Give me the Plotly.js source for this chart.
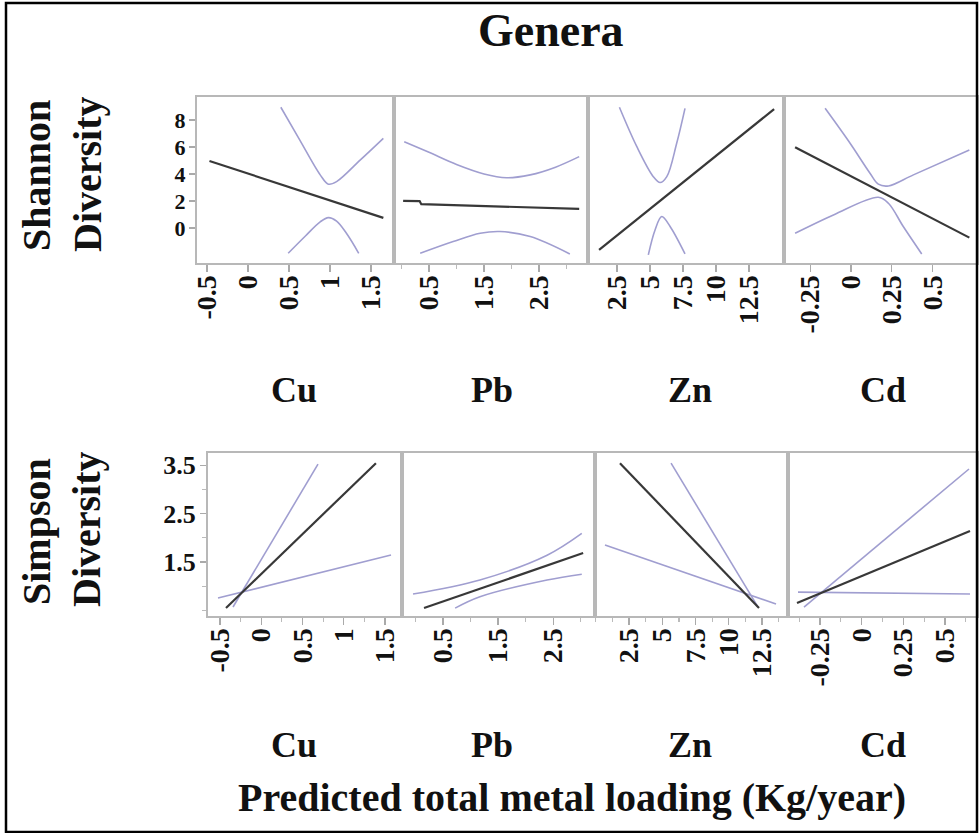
<!DOCTYPE html>
<html>
<head>
<meta charset="utf-8">
<script src="https://cdn.plot.ly/plotly-3.0.1.min.js"></script>
<style>html,body{margin:0;padding:0;background:#fff;}#chart{width:979px;height:833px;}</style>
</head>
<body>
<div id="chart"></div>
<script>
// ---------- data ----------
const metals = ['Cu', 'Pb', 'Zn', 'Cd'];
const rowLabels = [['Shannon', 'Diversity'], ['Simpson', 'Diversity']];
const chartTitle = 'Genera';
const xTitle = 'Predicted total metal loading (Kg/year)';

// Shannon diversity (top row)
const shCuFitX = [-0.47, 1.65], shCuFitY = [4.96, 0.74];
const shCuUpX = [0.40, 0.63, 0.88, 0.98, 1.08, 1.37, 1.65], shCuUpY = [8.94, 6.52, 3.93, 3.24, 3.43, 5.04, 6.64];
const shCuLoX = [0.49, 0.70, 0.88, 0.98, 1.08, 1.20, 1.35], shCuLoY = [-1.88, -0.60, 0.45, 0.76, 0.50, -0.40, -1.88];

const shPbFitX = [0.03, 0.33, 0.36, 3.23], shPbFitY = [2.00, 1.98, 1.76, 1.41];
const shPbUpX = [0.05, 0.50, 1.00, 1.50, 1.91, 2.34, 2.80, 3.23], shPbUpY = [6.39, 5.60, 4.70, 4.00, 3.72, 3.93, 4.50, 5.28];
const shPbLoX = [0.34, 0.94, 1.43, 1.79, 2.34, 3.06], shPbLoY = [-1.88, -1.01, -0.40, -0.27, -0.64, -1.93];

const shZnFitX = [1.14, 14.4], shZnFitY = [-1.63, 8.80];
const shZnUpX = [2.68, 4.00, 5.25, 5.76, 6.27, 7.02, 7.65], shZnUpY = [8.94, 6.02, 3.80, 3.36, 3.80, 6.27, 8.86];
const shZnLoX = [4.87, 5.38, 5.89, 6.52, 7.65], shZnLoY = [-2.00, -0.15, 0.84, 0.10, -1.93];

const shCdFitX = [-0.342, 0.726], shCdFitY = [5.98, -0.72];
const shCdUpX = [-0.158, -0.005, 0.117, 0.168, 0.23, 0.383, 0.726], shCdUpY = [8.86, 6.27, 4.05, 3.24, 3.11, 3.93, 5.78];
const shCdLoX = [-0.342, -0.107, 0.168, 0.23, 0.321, 0.434], shCdLoY = [-0.40, 0.96, 2.27, 1.83, 0.10, -1.93];

// Simpson diversity (bottom row)
const siCuFitX = [-0.427, 1.39], siCuFitY = [0.552, 3.54];
const siCuUpX = [-0.342, 0.688], siCuUpY = [0.572, 3.52];
const siCuLoX = [-0.524, 1.573], siCuLoY = [0.758, 1.644];

const siPbFitX = [0.155, 3.045], siPbFitY = [0.552, 1.686];
const siPbUpX = [-0.045, 1.17, 2.39, 3.02], siPbUpY = [0.84, 1.13, 1.64, 2.09];
const siPbLoX = [0.72, 1.17, 2.39, 3.02], siPbLoY = [0.55, 0.785, 1.13, 1.25];

const siZnFitX = [1.82, 12.27], siZnFitY = [3.54, 0.55];
const siZnUpX = [5.66, 12.2], siZnUpY = [3.54, 0.57];
const siZnLoX = [0.695, 13.55], siZnLoY = [1.85, 0.634];

const siCdFitX = [-0.388, 0.65], siCdFitY = [0.655, 2.14];
const siCdUpX = [-0.346, 0.644], siCdUpY = [0.572, 3.42];
const siCdLoX = [-0.382, 0.65], siCdLoY = [0.88, 0.84];

// tick labels
const cuTicks = [-0.5, 0, 0.5, 1, 1.5], cuText = ['-0.5', '0', '0.5', '1', '1.5'];
const pbTicks = [0.5, 1.5, 2.5], pbText = ['0.5', '1.5', '2.5'];
const znTicks = [2.5, 5, 7.5, 10, 12.5], znText = ['2.5', '5', '7.5', '10', '12.5'];
const cdTicks = [-0.25, 0, 0.25, 0.5], cdText = ['-0.25', '0', '0.25', '0.5'];
const shTicks = [0, 2, 4, 6, 8], shText = ['0', '2', '4', '6', '8'];
const siTicks = [1.5, 2.5, 3.5], siText = ['1.5', '2.5', '3.5'];

// ---------- layout helpers ----------
const W = 979, H = 833;
const px = v => v / W;
const py = v => 1 - v / H;
const FONT = 'Liberation Serif, Times New Roman, serif';
const FIT_COLOR = '#383838', CI_COLOR = '#a09ed0', FRAME = '#b8b8b8';

const traces = [];
function addPanel(n, fx, fy, ux, uy, lx, ly, ciShape) {
  const xa = 'x' + (n === 1 ? '' : n), ya = 'y' + (n === 1 ? '' : n);
  traces.push({x: ux, y: uy, xaxis: xa, yaxis: ya, mode: 'lines', hoverinfo: 'skip',
    line: {color: CI_COLOR, width: 1.6, shape: ciShape, smoothing: 1}});
  traces.push({x: lx, y: ly, xaxis: xa, yaxis: ya, mode: 'lines', hoverinfo: 'skip',
    line: {color: CI_COLOR, width: 1.6, shape: ciShape, smoothing: 1}});
  traces.push({x: fx, y: fy, xaxis: xa, yaxis: ya, mode: 'lines', hoverinfo: 'skip',
    line: {color: FIT_COLOR, width: 2.2}});
}
addPanel(1, shCuFitX, shCuFitY, shCuUpX, shCuUpY, shCuLoX, shCuLoY, 'spline');
addPanel(2, shPbFitX, shPbFitY, shPbUpX, shPbUpY, shPbLoX, shPbLoY, 'spline');
addPanel(3, shZnFitX, shZnFitY, shZnUpX, shZnUpY, shZnLoX, shZnLoY, 'spline');
addPanel(4, shCdFitX, shCdFitY, shCdUpX, shCdUpY, shCdLoX, shCdLoY, 'spline');
addPanel(5, siCuFitX, siCuFitY, siCuUpX, siCuUpY, siCuLoX, siCuLoY, 'spline');
addPanel(6, siPbFitX, siPbFitY, siPbUpX, siPbUpY, siPbLoX, siPbLoY, 'spline');
addPanel(7, siZnFitX, siZnFitY, siZnUpX, siZnUpY, siZnLoX, siZnLoY, 'linear');
addPanel(8, siCdFitX, siCdFitY, siCdUpX, siCdUpY, siCdLoX, siCdLoY, 'linear');

const layout = {
  width: W, height: H, margin: {l: 0, r: 0, t: 0, b: 0},
  paper_bgcolor: '#fff', plot_bgcolor: '#fff', showlegend: false,
  font: {family: FONT, color: '#111'},
  annotations: [], shapes: []
};

function xAxis(dom, range, tv, tt, anchor, minorD) {
  const a = {domain: [px(dom[0]), px(dom[1])], range: range, anchor: anchor,
    showgrid: false, zeroline: false, showline: true, mirror: true,
    linecolor: FRAME, linewidth: 2, ticks: 'outside', ticklen: 7, tickwidth: 1.2, tickcolor: '#aaa',
    tickmode: 'array', tickvals: tv, ticktext: tt, tickangle: -90, ticklabelstandoff: -8,
    tickfont: {family: FONT, size: 28, color: '#111', weight: 700}, fixedrange: true};
  if (minorD) a.minor = {dtick: minorD, ticks: 'outside', ticklen: 4, tickcolor: '#bbb', showgrid: false};
  return a;
}
function yAxis(dom, range, tv, tt, anchor, labels, minorD, fsize) {
  const a = {domain: [py(dom[1]), py(dom[0])], range: range, anchor: anchor,
    showgrid: false, zeroline: false, showline: true, mirror: true,
    linecolor: FRAME, linewidth: 2, fixedrange: true,
    ticks: labels ? 'outside' : '', ticklen: 6, tickwidth: 1.2, tickcolor: '#aaa',
    showticklabels: labels, ticklabelstandoff: -1,
    tickfont: {family: FONT, size: fsize, color: '#111', weight: 700}};
  if (labels) { a.tickmode = 'array'; a.tickvals = tv; a.ticktext = tt; }
  if (minorD && labels) a.minor = {dtick: minorD, ticks: 'outside', ticklen: 4, tickcolor: '#bbb', showgrid: false};
  return a;
}

// panel geometry
const topY = [97, 263], botY = [453, 616];
const topX = [[197, 394], [394, 588], [588, 784], [784, 978]];
const botX = [[208, 402], [402, 595], [595, 788], [788, 978]];
const topXR = [[-0.622, 1.78], [-0.136, 3.39], [0.3, 15.15], [-0.41, 0.779]];
const botXR = [[-0.645, 1.706], [-0.245, 3.26], [-0.056, 14.45], [-0.442, 0.698]];
const tickV = [cuTicks, pbTicks, znTicks, cdTicks];
const tickT = [cuText, pbText, znText, cdText];
const minorTop = [null, 0.5, null, null];
const minorBot = [0.25, 0.5, 1.25, 0.125];

for (let i = 0; i < 4; i++) {
  const n = i + 1, m = i + 5;
  layout['xaxis' + (n === 1 ? '' : n)] = xAxis(topX[i], topXR[i], tickV[i], tickT[i], 'y' + (n === 1 ? '' : n), minorTop[i]);
  layout['yaxis' + (n === 1 ? '' : n)] = yAxis(topY, [-2.6, 9.7], shTicks, shText, 'x' + (n === 1 ? '' : n), i === 0, null, 22);
  layout['xaxis' + m] = xAxis(botX[i], botXR[i], tickV[i], tickT[i], 'y' + m, minorBot[i]);
  layout['yaxis' + m] = yAxis(botY, [0.387, 3.75], siTicks, siText, 'x' + m, i === 0, 0.5, 26);
}

function ann(text, x, y, size, angle) {
  layout.annotations.push({text: text, x: px(x), y: py(y), xref: 'paper', yref: 'paper',
    showarrow: false, xanchor: 'center', yanchor: 'middle', textangle: angle || 0,
    font: {family: FONT, size: size, color: '#111', weight: 'bold'}});
}
ann(chartTitle, 551, 30, 46);
ann(rowLabels[0][0], 37, 176, 40, -90);
ann(rowLabels[0][1], 87, 174, 40, -90);
ann(rowLabels[1][0], 36, 532, 40, -90);
ann(rowLabels[1][1], 86, 529, 40, -90);
const labX = [294, 492, 690, 883];
for (let i = 0; i < 4; i++) {
  ann(metals[i], labX[i], 390, 36);
  ann(metals[i], labX[i], 745, 36);
}
ann(xTitle, 572, 797, 40);

layout.shapes.push({type: 'rect', xref: 'paper', yref: 'paper',
  x0: px(6), x1: px(977), y0: py(832), y1: py(3), line: {color: '#000', width: 2.5}});

Plotly.newPlot('chart', traces, layout, {staticPlot: true, displayModeBar: false});
</script>
</body>
</html>
